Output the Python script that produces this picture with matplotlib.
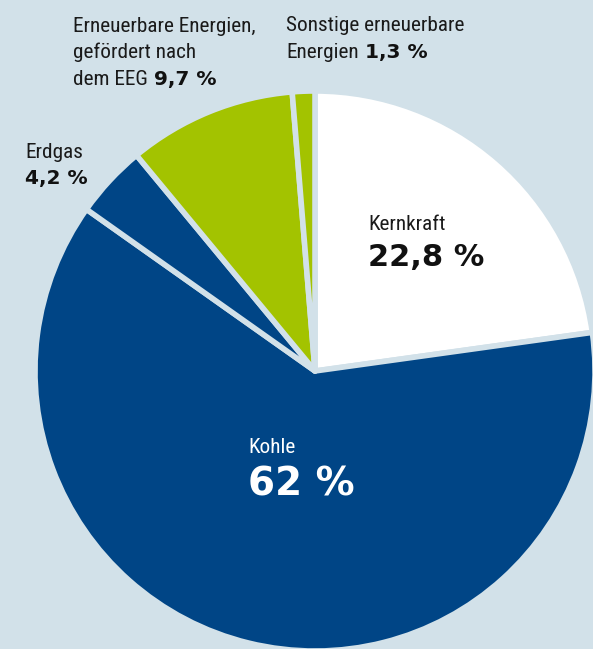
import matplotlib
matplotlib.use("Agg")
import matplotlib.pyplot as plt
from matplotlib import font_manager

categories = ["Kernkraft", "Kohle", "Erdgas",
              "Erneuerbare Energien, gefördert nach dem EEG",
              "Sonstige erneuerbare Energien"]
values = [22.8, 62.0, 4.2, 9.7, 1.3]
value_labels = ["22,8 %", "62 %", "4,2 %", "9,7 %", "1,3 %"]

BG = "#d2e1e9"
BLUE = "#004586"
GREEN = "#a3c300"
colors = ["#ffffff", BLUE, BLUE, GREEN, GREEN]


def pick_font(cands):
    for c in cands:
        try:
            font_manager.findfont(font_manager.FontProperties(family=c),
                                  fallback_to_default=False)
            return c
        except Exception:
            continue
    return "DejaVu Sans"


LBL_FONT = pick_font(["Roboto Condensed", "Open Sans Condensed",
                      "Liberation Sans Narrow", "Noto Sans Condensed",
                      "Roboto"])
LBL = [LBL_FONT, "DejaVu Sans"]
NUM = ["DejaVu Sans"]

W, H = 593, 649
fig = plt.figure(figsize=(W / 100, H / 100), dpi=100, facecolor=BG)
ax = fig.add_axes([0, 0, 1, 1])
ax.set_facecolor(BG)

cx, cy, r = 315, H - 371, 280
ax.pie(values, colors=colors, startangle=90, counterclock=False,
       center=(cx, cy), radius=r,
       wedgeprops=dict(edgecolor=BG, linewidth=4.0, joinstyle="round"))
ax.set_xlim(0, W)
ax.set_ylim(0, H)
ax.set_aspect("equal")
ax.axis("off")

renderer = fig.canvas.get_renderer()
LSIZE = 14 if LBL_FONT == "Roboto" else 15.3


def lab(x, y, s, size=LSIZE, color="#1a1a1a"):
    return ax.text(x, H - y, s, fontsize=size, family=LBL, color=color,
                   ha="left", va="baseline")


def num(x, y, s, size=14.5, color="#111111"):
    return ax.text(x, H - y, s, fontsize=size, family=NUM, fontweight="heavy",
                   color=color, ha="left", va="baseline")


def after(t, xref):
    bb = t.get_window_extent(renderer=renderer)
    return max(xref, bb.x1 + 6)


# EEG label
lab(73, 32, "Erneuerbare Energien,")
lab(73, 58, "gefördert nach")
t = lab(73, 85, "dem EEG")
num(after(t, 154), 85, value_labels[3])

# Sonstige
lab(286, 31, "Sonstige erneuerbare")
t = lab(286, 58, "Energien")
num(after(t, 363), 58, value_labels[4])

# Erdgas
lab(25, 158, "Erdgas")
num(25, 184, value_labels[2])

# Kernkraft
lab(368, 230, "Kernkraft")
num(368, 266, value_labels[0], size=22)

# Kohle
lab(248, 453, "Kohle", color="white")
num(248, 496, value_labels[1], size=28, color="white")

fig.savefig("out.png", dpi=100, facecolor=BG)
